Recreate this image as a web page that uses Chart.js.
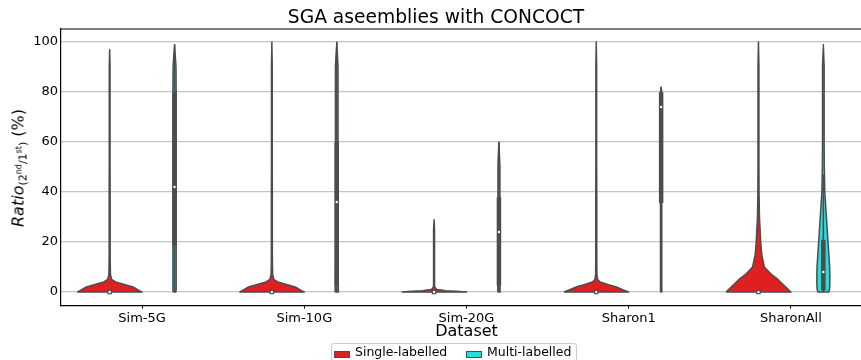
<!DOCTYPE html>
<html>
<head>
<meta charset="utf-8">
<script src="https://cdn.jsdelivr.net/npm/chart.js@4.4.1/dist/chart.umd.min.js"></script>
<style>
    html, body { margin: 0; padding: 0; background: #fff; overflow: hidden; width: 861px; height: 360px; }
    #wrap { position: relative; width: 934px; height: 360px; }
    #ylabel {
        position: absolute; left: 19px; top: 168px;
        transform: translate(-50%, -50%) rotate(-90deg);
        font-family: "DejaVu Sans"; font-size: 16px; color: #000; white-space: nowrap;
    }
    #ylabel sub { font-size: 11px; vertical-align: -3px; }
    #ylabel sup { font-size: 8px; vertical-align: 5px; }
    #legend {
        position: absolute; left: 331px; top: 343px; width: 244px; height: 26px;
        border: 1px solid #cccccc; border-radius: 3px; background: #fff;
        font-family: "DejaVu Sans"; font-size: 12.5px; color: #000;
    }
    #legend .patch { position: absolute; top: 7px; width: 14px; height: 5px; border: 1px solid #4c4c4c; }
    #legend .lbl { position: absolute; top: 0px; line-height: 16px; }
</style>
</head>
<body>
<div id="wrap">
    <canvas id="violinChart" width="934" height="360"></canvas>
    <div id="ylabel"><i>Ratio</i><sub>(2<sup>nd</sup>/1<sup>st</sup>)</sub> (%)</div>
    <div id="legend"></div>
</div>
<script>
    const categories = ["Sim-5G", "Sim-10G", "Sim-20G", "Sharon1", "SharonAll"];
    const hues = ["Single-labelled", "Multi-labelled"];
    const hueColors = ["#df2020", "#20dfdf"];
    const yTicks = [0, 20, 40, 60, 80, 100];

    // ratio levels at which the violin half-widths are read (% of widest violin)
    const levels = [0, 0.5, 1, 2, 3, 4, 5, 7, 10, 15, 20, 25, 30, 40, 50, 60, 70, 80, 90, 100];

    const singleWidth = [
        [100, 92, 85, 72, 45, 18, 6, 2.5, 2, 1.5, 1.5, 1.5, 1.5, 1.5, 1.2, 1.2, 1.2, 1.2, 1.2, 1],
        [100, 92, 85, 72, 45, 18, 6, 2.5, 2, 1.5, 1.5, 1.5, 1.5, 1.5, 1.2, 1.2, 1.2, 1.2, 1.2, 1],
        [100, 35, 8, 2, 1.5, 1.5, 1.5, 1.5, 1.5, 1.5, 1.5, 1.5, 1.2, 1, 1, 1, 1, 1, 1, 1],
        [100, 90, 80, 62, 35, 12, 4, 2, 1.8, 1.5, 1.5, 1.5, 1.5, 1.5, 1.2, 1.2, 1.2, 1.2, 1.2, 1],
        [100, 95, 92, 84, 76, 68, 60, 40, 18, 10, 7, 5, 3, 1.8, 1.5, 1.5, 1.5, 1.5, 1.5, 1.2]
    ];
    const singleTop = [97, 100, 29, 100, 100];
    const singleQ1 = [0, 0, 0, 0, 0];
    const singleMedian = [0, 0, 0, 0, 0];
    const singleQ3 = [0.2, 0.2, 0.2, 0.2, 0.2];

    const multiWidth = [
        [4, 4.5, 5, 5, 5, 5, 5, 5, 5, 5, 5, 5, 5, 5, 5, 5, 5, 5, 4.5, 4],
        [5, 5, 5, 5, 4.5, 4.5, 4.5, 4.5, 4, 4, 4, 4, 4, 4, 4, 4, 4, 4, 4, 3.5],
        [3.5, 3.5, 3.5, 3.5, 3.5, 3.5, 3.5, 3.5, 3.5, 3.5, 3.5, 3.5, 3.5, 3, 3, 3, 3, 3, 3, 3],
        [2, 2, 2, 2, 2, 2, 2, 2, 2, 2, 2, 2, 2, 2, 2, 2, 2, 2, 2, 2],
        [17, 18, 19, 19.5, 20, 20, 20, 20, 19.5, 17, 14.5, 12, 9.5, 4.5, 3, 2.5, 2.5, 2.5, 2.5, 2]
    ];
    const multiTop = [99, 100, 60, 82, 99];
    const multiQ1 = [19.5, 3.4, 3.5, 36.5, 1.5];
    const multiMedian = [42, 36, 24, 74, 8];
    const multiQ3 = [79, 59, 37, 79, 20];
    const multiWhiskerLow = [0, 0, 0, 0, 0];
    const multiWhiskerHigh = [99, 100, 60, 82, 47];

    const gray = "#4c4c4c";
    const hueOffset = 0.2;
    const maxHalfWidth = 0.2;

    function outline(center, widths, top) {
        const left = [];
        const right = [];
        levels.forEach((lv, k) => {
            if (lv < top) {
                const w = widths[k] / 100 * maxHalfWidth;
                left.push({ x: center - w, y: lv });
                right.unshift({ x: center + w, y: lv });
            }
        });
        return left.concat([{ x: center, y: top }], right, [left[0]]);
    }

    function seg(x, y1, y2) {
        return [{ x: x, y: y1 }, { x: x, y: y2 }];
    }

    // a tiny tension keeps Chart.js off its x-sorted fast path, so shapes stay exact
    const straight = 0.0001;

    const datasets = [];
    const groups = [
        { widths: singleWidth, top: singleTop, q1: singleQ1, med: singleMedian, q3: singleQ3, lo: null, hi: null },
        { widths: multiWidth, top: multiTop, q1: multiQ1, med: multiMedian, q3: multiQ3, lo: multiWhiskerLow, hi: multiWhiskerHigh }
    ];

    groups.forEach((g, h) => {
        categories.forEach((cat, i) => {
            const c = i + (h === 0 ? -hueOffset : hueOffset);
            datasets.push({
                label: hues[h], data: outline(c, g.widths[i], g.top[i]),
                showLine: true, fill: "shape", backgroundColor: hueColors[h],
                borderColor: gray, borderWidth: 1.5, borderJoinStyle: "round",
                pointRadius: 0, tension: straight, order: 4
            });
            if (g.lo) {
                datasets.push({
                    data: seg(c, g.lo[i], g.hi[i]), showLine: true, borderColor: gray,
                    borderWidth: 1.5, pointRadius: 0, tension: straight, order: 3
                });
            }
            datasets.push({
                data: seg(c, g.q1[i], g.q3[i]), showLine: true, borderColor: gray,
                borderWidth: 4.5, borderCapStyle: "square", pointRadius: 0, tension: straight, order: 2
            });
            datasets.push({
                data: [{ x: c, y: g.med[i] }], showLine: false, pointRadius: 1.2,
                pointBackgroundColor: "#ffffff", pointBorderWidth: 0, order: 1
            });
        });
    });

    // top spine
    const frame = {
        id: "frame",
        afterDraw(chart) {
            const a = chart.chartArea;
            const ctx = chart.ctx;
            ctx.save();
            ctx.strokeStyle = "#000";
            ctx.lineWidth = 1.2;
            ctx.beginPath();
            ctx.moveTo(a.left, a.top);
            ctx.lineTo(a.right, a.top);
            ctx.stroke();
            ctx.restore();
        }
    };

    const font = { family: "DejaVu Sans", size: 13 };

    new Chart(document.getElementById("violinChart"), {
        type: "scatter",
        data: { datasets: datasets },
        plugins: [frame],
        options: {
            responsive: false,
            animation: false,
            layout: { padding: { left: 0, right: 62, top: 0, bottom: 0 } },
            plugins: {
                legend: { display: false },
                tooltip: { enabled: false },
                title: {
                    display: true, text: "SGA aseemblies with CONCOCT", color: "#000",
                    font: { family: "DejaVu Sans", size: 18.7, weight: "normal", lineHeight: 1 },
                    padding: { top: 8.6, bottom: 1.7 }
                }
            },
            scales: {
                x: {
                    type: "linear", min: -0.5, max: 4.5,
                    afterBuildTicks: s => { s.ticks = categories.map((_, i) => ({ value: i })); },
                    afterFit: s => { s.height = 54.3; },
                    ticks: { callback: v => categories[v], font: font, color: "#000", padding: 2, maxRotation: 0, autoSkip: false },
                    grid: { drawOnChartArea: false, drawTicks: true, tickLength: 3, tickColor: "#000", tickWidth: 1 },
                    border: { color: "#000", width: 1.2 },
                    title: {
                        display: true, text: "Dataset", color: "#000",
                        font: { family: "DejaVu Sans", size: 16 }, padding: { top: 0, bottom: 19 }
                    }
                },
                y: {
                    type: "linear", min: -5.5, max: 105.2,
                    afterBuildTicks: s => { s.ticks = yTicks.map(v => ({ value: v })); },
                    afterFit: s => { s.width = 61; },
                    ticks: { font: font, color: "#000", padding: 3 },
                    grid: { color: "#c4c4c4", lineWidth: 1.3, drawTicks: false },
                    border: { color: "#000", width: 1.2 }
                }
            }
        }
    });

    // legend, built from the hue names and colours
    const legend = document.getElementById("legend");
    const patchLeft = [2, 134];
    const textLeft = [23, 155];
    hues.forEach((name, h) => {
        const p = document.createElement("div");
        p.className = "patch";
        p.style.left = patchLeft[h] + "px";
        p.style.background = hueColors[h];
        legend.appendChild(p);
        const t = document.createElement("div");
        t.className = "lbl";
        t.style.left = textLeft[h] + "px";
        t.textContent = name;
        legend.appendChild(t);
    });
</script>
</body>
</html>
